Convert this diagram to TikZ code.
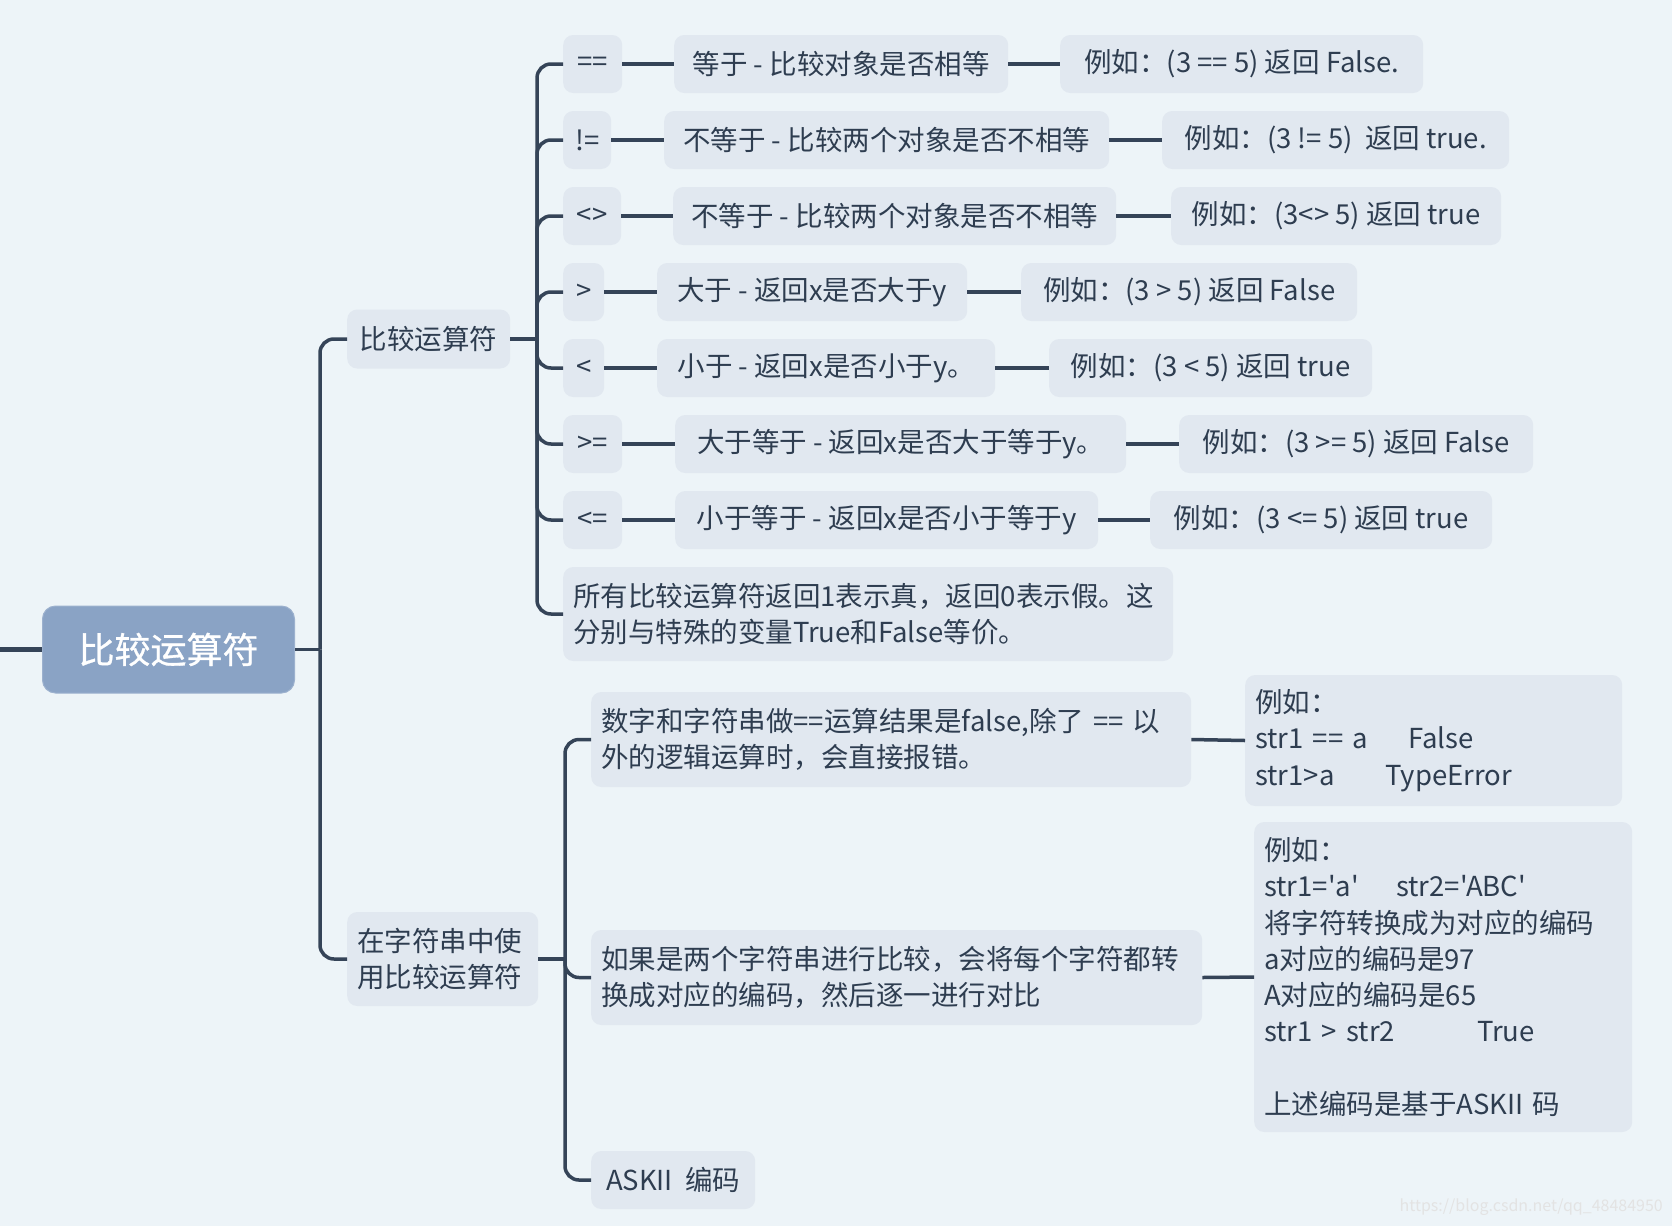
\documentclass[tikz,border=0pt]{standalone}
\usepackage{fontspec}
\newfontfamily\cjk{Noto Sans CJK SC}
\newfontfamily\cjkroot{Noto Sans CJK SC}[FakeBold=0.8]
\definecolor{bgc}{HTML}{EDF4F8}
\definecolor{boxfill}{HTML}{E1E8F0}
\definecolor{lnc}{HTML}{354458}
\definecolor{txtc}{HTML}{2E3D50}
\definecolor{rootfill}{HTML}{8AA3C5}
\begin{document}
\begin{tikzpicture}[x=1pt,y=-1pt,
  box/.style={fill=boxfill, rounded corners=10pt, inner sep=0pt, anchor=west,
    text=txtc, font=\cjk\fontsize{27.5}{36.2}\selectfont, minimum height=58pt},
  mbox/.style={box, align=left, inner xsep=10pt},
  conn/.style={draw=lnc, line width=3.5pt},
  branch/.style={conn, rounded corners=14pt}]
\fill[bgc] (0,0) rectangle (1672,1226);
\useasboundingbox (0,0) rectangle (1672,1226);

% root
\node[fill=rootfill, draw=rootfill!85!white, line width=1pt, rounded corners=13pt,
  anchor=west, minimum width=252pt, minimum height=87pt, inner sep=0pt,
  text=white, font=\cjkroot\fontsize{36}{40}\selectfont] (root) at (42,649.5) {比较运算符};
\coordinate (lstub) at (0,649.5);
\draw[conn, line width=5pt] (lstub) -- (root.west);

% level 1
\node[box, minimum width=163pt, minimum height=59pt] (c1) at (347,339) {比较运算符};
\node[mbox, text width=171pt, minimum height=94pt] (c2) at (347,959) {在字符串中使\\用比较运算符};
\coordinate (j0) at (320,649.5);
\draw[conn] (root.east) -- (j0);
\draw[branch] (j0) |- (c1.west);
\draw[branch] (j0) |- (c2.west);

% operators
\node[box, minimum width=59pt] (o1) at (563,64) {==};
\node[box, minimum width=334pt] (d1) at (674,64) {等于 - 比较对象是否相等};
\node[box, minimum width=363pt] (e1) at (1060,64) {例如：(3 == 5) 返回 False.};

\node[box, minimum width=48pt] (o2) at (563,140) {!=};
\node[box, minimum width=445pt] (d2) at (664,140) {不等于 - 比较两个对象是否不相等};
\node[box, minimum width=347pt] (e2) at (1162,140) {例如：(3 != 5)\ \ 返回 true.};

\node[box, minimum width=58pt] (o3) at (563,216) {<>};
\node[box, minimum width=443pt] (d3) at (673,216) {不等于 - 比较两个对象是否不相等};
\node[box, minimum width=330pt] (e3) at (1171,216) {例如：(3<> 5) 返回 true};

\node[box, minimum width=41pt] (o4) at (563,292) {>};
\node[box, minimum width=310pt] (d4) at (657,292) {大于 - 返回x是否大于y};
\node[box, minimum width=336pt] (e4) at (1021,292) {例如：(3 > 5) 返回 False};

\node[box, minimum width=41pt] (o5) at (563,368) {<};
\node[box, minimum width=338pt] (d5) at (657,368) {小于 - 返回x是否小于y。};
\node[box, minimum width=323pt] (e5) at (1049,368) {例如：(3 < 5) 返回 true};

\node[box, minimum width=59pt] (o6) at (563,444) {>=};
\node[box, minimum width=451pt] (d6) at (675,444) {大于等于 - 返回x是否大于等于y。};
\node[box, minimum width=354pt] (e6) at (1179,444) {例如：(3 >= 5) 返回 False};

\node[box, minimum width=59pt] (o7) at (563,520) {<=};
\node[box, minimum width=423pt] (d7) at (675,520) {小于等于 - 返回x是否小于等于y};
\node[box, minimum width=342pt] (e7) at (1150,520) {例如：(3 <= 5) 返回 true};

\node[mbox, text width=590pt, minimum height=94pt] (all) at (563,614)
  {所有比较运算符返回1表示真，返回0表示假。这\\分别与特殊的变量True和False等价。};

\coordinate (j1) at (537,339);
\draw[conn] (c1.east) -- (j1);
\foreach \n in {o1,o2,o3,o4,o5,o6,o7,all} {\draw[branch] (j1) |- (\n.west);}
\foreach \i in {1,...,7} {
  \draw[conn] (o\i.east) -- (d\i.west);
  \draw[conn] (d\i.east) -- (e\i.west);
}

% strings
\node[mbox, text width=580pt, minimum height=95pt] (sa) at (591,739.5)
  {数字和字符串做==运算结果是false,除了 == 以\\外的逻辑运算时，会直接报错。};
\node[mbox, text width=591pt, minimum height=95pt] (sb) at (591,977.5)
  {如果是两个字符串进行比较，会将每个字符都转\\换成对应的编码，然后逐一进行对比};
\node[box, minimum width=164pt] (sc) at (591,1180) {ASKII\ \ 编码};

\node[mbox, text width=357pt, minimum height=131pt] (ea) at (1245,740.5)
  {例如：\\\makebox[153pt][l]{str1 == a}False\\\makebox[130pt][l]{str1>a}TypeError};
\node[mbox, text width=358pt, minimum height=310pt] (eb) at (1254,977)
  {例如：\\\makebox[132pt][l]{str1='a'}str2='ABC'\\将字符转换成为对应的编码\\a对应的编码是97\\A对应的编码是65\\\makebox[213pt][l]{str1 > str2}True\\[36.2pt]上述编码是基于ASKII 码};

\coordinate (j2) at (565,959);
\draw[conn] (c2.east) -- (j2);
\foreach \n in {sa,sb,sc} {\draw[branch] (j2) |- (\n.west);}
\draw[conn] (sa.east) -- (ea.west);
\draw[conn] (sb.east) -- (eb.west);

% watermark
\node[anchor=east, inner sep=0pt, text=black!11, font=\cjk\fontsize{16}{16}\selectfont] (wm) at (1663,1207) {https://blog.csdn.net/qq\_48484950};
\end{tikzpicture}
\end{document}
